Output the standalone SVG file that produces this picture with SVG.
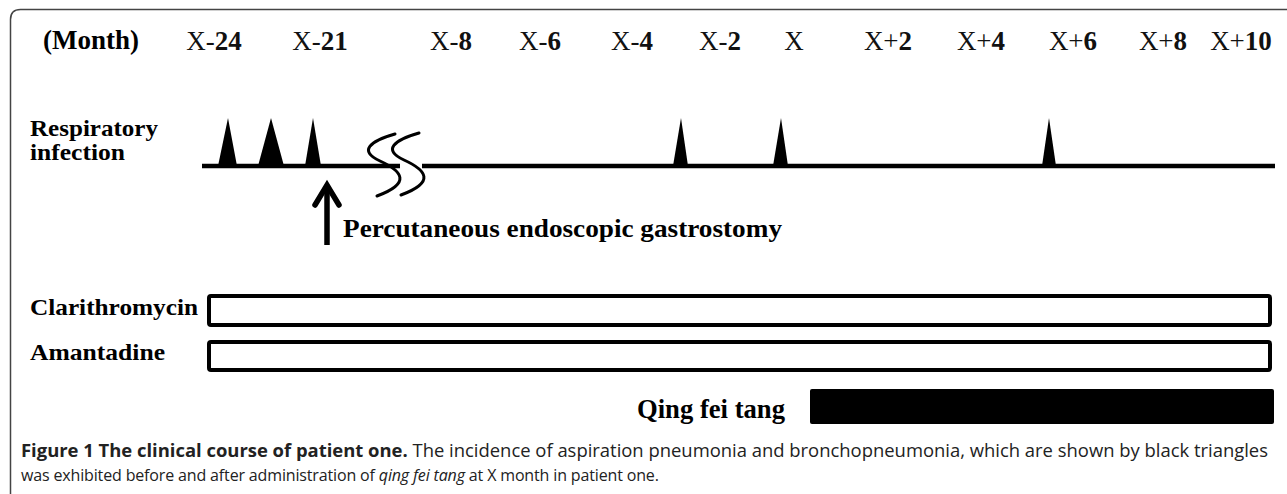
<svg xmlns="http://www.w3.org/2000/svg" width="1287" height="494" viewBox="0 0 1287 494">
<style>
.lbl{font-family:"Liberation Serif","Times New Roman",serif;font-weight:bold;fill:#000}
.mon{font-family:"Liberation Serif","Times New Roman",serif;font-size:27px;fill:#111;text-anchor:middle}
.mon tspan{font-weight:bold}
.bar{fill:#fff;stroke:#000;stroke-width:4}
.tri{fill:#000}
.cap{font-family:"Open Sans","Noto Sans",sans-serif;font-size:17.5px;fill:#222}
</style>
<rect x="0" y="0" width="1287" height="494" fill="#fff"/>
<path d="M10.5,520 V19.5 Q10.5,9.5 20.5,9.5 H1300" fill="none" stroke="#444" stroke-width="1.5"/>
<g id="month-axis">
<text class="lbl" x="43" y="49" font-size="27">(Month)</text>
<text class="mon" x="214" y="50">X-<tspan>24</tspan></text>
<text class="mon" x="320" y="50">X-<tspan>21</tspan></text>
<text class="mon" x="451" y="50">X-<tspan>8</tspan></text>
<text class="mon" x="540" y="50">X-<tspan>6</tspan></text>
<text class="mon" x="632" y="50">X-<tspan>4</tspan></text>
<text class="mon" x="720" y="50">X-<tspan>2</tspan></text>
<text class="mon" x="794" y="50">X</text>
<text class="mon" x="888" y="50">X+<tspan>2</tspan></text>
<text class="mon" x="981" y="50">X+<tspan>4</tspan></text>
<text class="mon" x="1073" y="50">X+<tspan>6</tspan></text>
<text class="mon" x="1163" y="50">X+<tspan>8</tspan></text>
<text class="mon" x="1241" y="50">X+<tspan>10</tspan></text>
</g>
<g id="respiratory-infection">
<text class="lbl" x="30" y="136" font-size="24" textLength="128" lengthAdjust="spacingAndGlyphs">Respiratory</text>
<text class="lbl" x="30" y="160" font-size="24" textLength="95" lengthAdjust="spacingAndGlyphs">infection</text>
<line x1="202" y1="166" x2="400" y2="166" stroke="#000" stroke-width="4.5"/>
<line x1="422" y1="166" x2="1275" y2="166" stroke="#000" stroke-width="4.5"/>
<polygon class="tri" points="218,166 228,118 237,166"/>
<polygon class="tri" points="258,166 271,118 284,166"/>
<polygon class="tri" points="305,166 313,118 321,166"/>
<polygon class="tri" points="673,166 681,118 688,166"/>
<polygon class="tri" points="773,166 781,118 788,166"/>
<polygon class="tri" points="1042,166 1049,118 1056,166"/>
<g fill="none" stroke="#000" stroke-width="3" stroke-linecap="round">
<path d="M395,134 C370,141 358,151 380,161 C402,171 412,183 377,196"/>
<path d="M419,133 C394,140 382,150 404,160 C426,170 436,182 401,195"/>
</g>
</g>
<g id="peg-arrow">
<line x1="327" y1="188" x2="327" y2="245" stroke="#000" stroke-width="5.5"/>
<polyline points="315,205 327,185 339,205" fill="none" stroke="#000" stroke-width="5.5" stroke-linecap="round" stroke-linejoin="miter"/>
<text class="lbl" x="343" y="237" font-size="26" textLength="439" lengthAdjust="spacingAndGlyphs">Percutaneous endoscopic gastrostomy</text>
</g>
<g id="clarithromycin">
<text class="lbl" x="30" y="315" font-size="24" textLength="168" lengthAdjust="spacingAndGlyphs">Clarithromycin</text>
<rect class="bar" x="209" y="296" width="1061" height="29" rx="2"/>
</g>
<g id="amantadine">
<text class="lbl" x="30" y="360" font-size="24" textLength="135" lengthAdjust="spacingAndGlyphs">Amantadine</text>
<rect class="bar" x="209" y="342" width="1061" height="28" rx="2"/>
</g>
<g id="qing-fei-tang">
<text class="lbl" x="637" y="418" font-size="28" textLength="148" lengthAdjust="spacingAndGlyphs">Qing fei tang</text>
<rect x="810" y="389" width="464" height="35" rx="2" fill="#000"/>
</g>
<g id="caption">
<text class="cap" x="21" y="457" textLength="1247" lengthAdjust="spacingAndGlyphs"><tspan font-weight="bold">Figure 1 The clinical course of patient one.</tspan> The incidence of aspiration pneumonia and bronchopneumonia, which are shown by black triangles</text>
<text class="cap" x="21" y="481" style="font-size:16px;letter-spacing:-0.15px">was exhibited before and after administration of <tspan font-style="italic">qing fei tang</tspan> at X month in patient one.</text>
</g>
</svg>
